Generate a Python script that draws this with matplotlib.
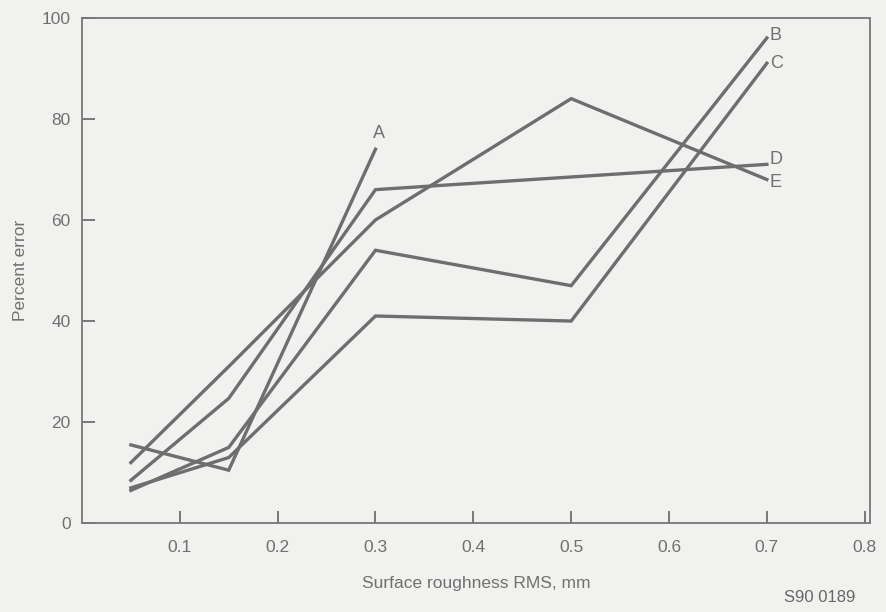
import matplotlib
matplotlib.use('Agg')
import matplotlib.pyplot as plt

plt.rcParams['font.family'] = ['Liberation Sans', 'DejaVu Sans']

# surface roughness RMS (mm)
rms = [0.05, 0.15, 0.3, 0.5, 0.7]
# percent error per curve
curve_a = [15.5, 10.5, 74]
curve_b = [6.5, 15, 54, 47, 96]
curve_c = [7, 13, 41, 40, 91]
curve_d = [8.5, 24.7, 66, 68.5, 71]
curve_e = [12, 31, 60, 84, 68]
curve_names = ['A', 'B', 'C', 'D', 'E']

line_col = '#6e6e6e'
text_col = '#707070'
bg = '#f1f1ef'

fig = plt.figure(figsize=(8.86, 6.12), dpi=100, facecolor=bg)
ax = fig.add_axes([0.0925, 0.145, 0.889, 0.826], facecolor=bg)

curves = [curve_a, curve_b, curve_c, curve_d, curve_e]
for name, vals in zip(curve_names, curves):
    xs = rms[:len(vals)]
    ax.plot(xs, vals, color=line_col, lw=2.4, solid_joinstyle='miter')

# curve letters at the line ends
ax.text(rms[2] + 0.004, curve_a[-1] + 1.5, 'A', color=text_col, fontsize=13,
        ha='center', va='bottom')
ends = {'B': curve_b[-1] + 0.5, 'C': curve_c[-1], 'D': curve_d[-1] + 1, 'E': curve_e[-1] - 0.5}
for name, y in ends.items():
    ax.text(rms[-1] + 0.003, y, name, color=text_col, fontsize=13,
            ha='left', va='center')

ax.set_xlim(0, 0.805)
ax.set_ylim(0, 100)
ax.set_xticks([0.1, 0.2, 0.3, 0.4, 0.5, 0.6, 0.7, 0.8])
ax.set_xticklabels(['0.1', '0.2', '0.3', '0.4', '0.5', '0.6', '0.7', '0.8'])
ax.set_yticks([0, 20, 40, 60, 80, 100])
ax.tick_params(direction='in', length=9, width=1.3, colors=line_col,
               labelcolor=text_col, labelsize=12.5)
ax.tick_params(axis='x', pad=12)
ax.tick_params(axis='y', pad=8)
for s in ax.spines.values():
    s.set_color('#777777')
    s.set_linewidth(1.3)

ax.set_xlabel('Surface roughness RMS, mm', color=text_col, fontsize=12.5, labelpad=15)
ax.set_ylabel('Percent error', color=text_col, fontsize=12.5, labelpad=10)

fig.text(0.925, 0.012, 'S90 0189', color='#666666', fontsize=12, ha='center', va='bottom')

fig.savefig('out.png', dpi=100, facecolor=bg)
